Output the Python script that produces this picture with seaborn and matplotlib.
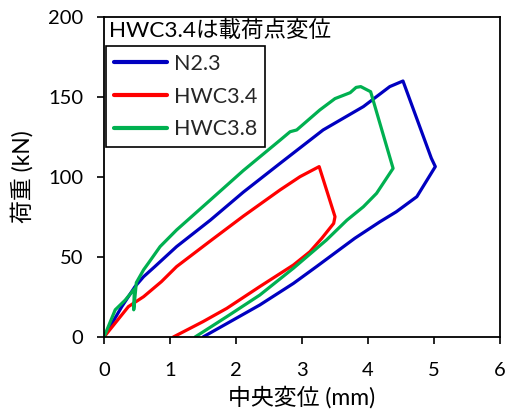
import matplotlib
matplotlib.use("Agg")
import matplotlib.pyplot as plt
import seaborn as sns
import pandas as pd

# ---- data ----
series_names = ["N2.3", "HWC3.4", "HWC3.8"]

n23_x = [0, 0.27, 0.47, 0.60, 0.77, 1.10, 1.61, 2.11, 2.667, 3.32, 3.93, 4.33, 4.53,
         4.96, 5.02, 4.74, 4.43, 4.18, 3.80, 3.22, 2.87, 2.36, 1.50]
n23_y = [0, 19, 31.5, 37.7, 44, 56.5, 73, 90.5, 108.5, 129.4, 144, 156.5, 160,
         111.7, 106.5, 87.7, 78.3, 72, 61.7, 44, 33.5, 20, 0]

hwc34_x = [0, 0.37, 0.60, 0.87, 1.10, 1.61, 2.11, 2.667, 2.97, 3.26, 3.50, 3.48,
           3.30, 3.12, 2.87, 2.36, 1.86, 1.50, 1.05]
hwc34_y = [0, 19, 25.2, 34.6, 44, 60, 75.5, 91.9, 100.2, 106.5, 75.2, 71,
           61.7, 53.3, 45, 31.5, 17.9, 9.6, 0]

hwc38_x = [0, 0.17, 0.32, 0.46, 0.45, 0.49, 0.60, 0.67, 0.85, 1.10, 1.61, 2.11, 2.667,
           2.82, 2.92, 3.27, 3.50, 3.73, 3.82, 3.89, 4.04, 4.38, 4.13, 3.93, 3.68,
           3.37, 2.87, 2.36, 1.86, 1.38]
hwc38_y = [0, 17, 23, 30, 17, 34, 42, 46, 56.5, 66.9, 85.6, 104, 123,
           128.3, 129.4, 141.9, 149, 152.7, 156, 156.5, 153.3, 105.4, 89.8, 81.4, 73,
           60.6, 43, 26.2, 12.7, 0]

x_ticks = [0, 1, 2, 3, 4, 5, 6]
y_ticks = [0, 50, 100, 150, 200]
colors = ["#0000C0", "#FF0000", "#00B050"]

frames = []
for name, xs, ys in zip(series_names, [n23_x, hwc34_x, hwc38_x], [n23_y, hwc34_y, hwc38_y]):
    frames.append(pd.DataFrame({"x": xs, "y": ys, "series": name}))
df = pd.concat(frames, ignore_index=True)

sns.set_theme(style="white")
FONT = ["Lato", "Noto Sans CJK JP", "DejaVu Sans"]
plt.rcParams["font.family"] = FONT

fig = plt.figure(figsize=(5.07, 4.11), dpi=100)
ax = fig.add_axes([104 / 507, 1 - 337 / 411, 396 / 507, 320 / 411])

sns.lineplot(data=df, x="x", y="y", hue="series", hue_order=series_names,
             palette=colors, sort=False, estimator=None, units="series",
             linewidth=2.3, ax=ax, legend=True)

ax.set_xlim(0, 6)
ax.set_ylim(0, 200)
ax.set_xticks(x_ticks)
ax.set_yticks(y_ticks)
ax.tick_params(axis="both", direction="out", length=5, width=1.2, color="black",
               labelsize=14.5, bottom=True, left=True)
ax.tick_params(axis="x", pad=13)
ax.tick_params(axis="y", pad=10)
for lab in ax.get_xticklabels() + ax.get_yticklabels():
    lab.set_color("black")
for s in ax.spines.values():
    s.set_color("black")
    s.set_linewidth(1.3)

ax.set_xlabel("中央変位 (mm)", fontsize=16.5, color="black", labelpad=5)
ax.set_ylabel("荷重 (kN)", fontsize=16.5, color="black", labelpad=10)

ax.text(0.012, 0.987, "HWC3.4は載荷点変位", transform=ax.transAxes, ha="left", va="top",
        fontsize=16.2, color="black")

handles, labels = ax.get_legend_handles_labels()
leg = ax.legend(handles, labels, loc="upper left", bbox_to_anchor=(0.005, 0.909),
                borderaxespad=0, frameon=True, fancybox=False, fontsize=15.5,
                handlelength=2.5, handletextpad=0.3, labelspacing=0.6,
                borderpad=0.35)
leg.get_frame().set_edgecolor("black")
leg.get_frame().set_linewidth(1.2)
leg.get_frame().set_alpha(1)
for line in leg.get_lines():
    line.set_linewidth(3)

fig.savefig("out.png", dpi=100)
